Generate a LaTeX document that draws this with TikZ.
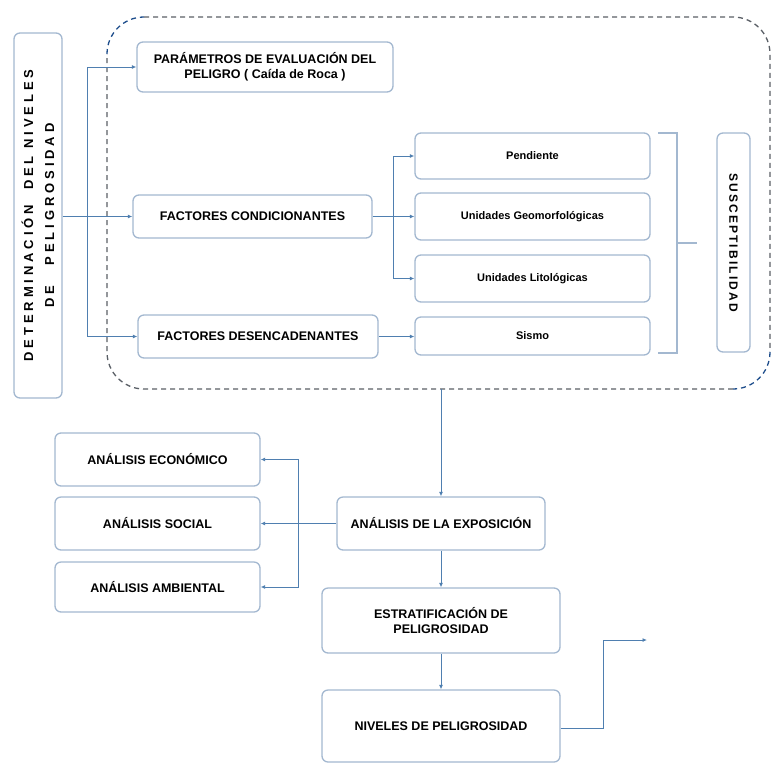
\documentclass[tikz,border=0pt]{standalone}
\usepackage{fontspec}
\setmainfont{Liberation Sans}
\newfontfamily\spacedfont[LetterSpace=30]{Liberation Sans}
\newfontfamily\susfont[LetterSpace=18]{Liberation Sans}
\usetikzlibrary{arrows.meta}
\definecolor{boxc}{HTML}{A3B8D0}
\definecolor{connc}{HTML}{4F7FB0}
\definecolor{dashc}{HTML}{5A5F66}
\definecolor{navyc}{HTML}{1F4E8C}
\tikzset{
  box/.style={draw=boxc, line width=1.3pt, rounded corners=6pt, fill=white, align=center, inner sep=2pt, font=\bfseries\fontsize{12.5}{15}\selectfont},
  smallbox/.style={box, font=\bfseries\fontsize{11}{13}\selectfont},
  conn/.style={draw=connc, line width=0.9pt},
  arr/.style={conn, -{Latex[length=4.5pt,width=4pt]}},
  region/.style={dashed, dash pattern=on 5pt off 4pt, line width=1.3pt},
}
\begin{document}
\begin{tikzpicture}[x=1pt,y=1pt]
\useasboundingbox (0,0) rectangle (773,-764);

% dashed region
\draw[region, dashc] (144,-17) -- (733,-17) arc[start angle=90,end angle=0,radius=37] -- (770,-352);
\draw[region, navyc] (770,-352) arc[start angle=0,end angle=-90,radius=37];
\draw[region, dashc] (733,-389) -- (144,-389) arc[start angle=270,end angle=180,radius=37] -- (107,-54);
\draw[region, navyc] (107,-54) arc[start angle=180,end angle=90,radius=37];

% left vertical box
\node[box, minimum width=48pt, minimum height=365pt, inner sep=0pt] (det) at (38,-215.5) {};
\node[rotate=90, align=center, font=\spacedfont\bfseries\fontsize{13}{21}\selectfont] (dettext) at (det.center) {DETERMINACIÓN \ DEL NIVELES\\DE \quad PELIGROSIDAD};

% first column
\node[box, minimum width=256pt, minimum height=50pt] (par) at (265,-67) {PARÁMETROS DE EVALUACIÓN DEL\\PELIGRO ( Caída de Roca )};
\node[box, minimum width=239pt, minimum height=43pt] (fc) at (252.5,-216.5) {FACTORES CONDICIONANTES};
\node[box, minimum width=240pt, minimum height=43pt] (fd) at (258,-336.5) {FACTORES DESENCADENANTES};

% second column
\node[smallbox, minimum width=235pt, minimum height=46pt] (pen) at (532.5,-156) {Pendiente};
\node[smallbox, minimum width=235pt, minimum height=47pt] (geo) at (532.5,-216.5) {Unidades Geomorfológicas};
\node[smallbox, minimum width=235pt, minimum height=47pt] (lit) at (532.5,-278.5) {Unidades Litológicas};
\node[smallbox, minimum width=235pt, minimum height=38pt] (sis) at (532.5,-336) {Sismo};

% susceptibilidad
\node[box, minimum width=33pt, minimum height=219pt, inner sep=0pt] (sus) at (733.5,-242.5) {};
\node[rotate=-90, font=\susfont\bfseries\fontsize{12}{14}\selectfont] (sustext) at (sus.center) {SUSCEPTIBILIDAD};

% bracket
\draw[boxc, line width=1.3pt] (658,-133) -- (677,-133) -- (677,-353) -- (658,-353);
\coordinate (brmid) at (677,-243);
\coordinate (brend) at (697,-243);
\draw[boxc, line width=1.3pt] (brmid) -- (brend);

% lower part
\node[box, minimum width=205pt, minimum height=53pt] (eco) at (157.5,-459.5) {ANÁLISIS ECONÓMICO};
\node[box, minimum width=205pt, minimum height=53pt] (soc) at (157.5,-523.5) {ANÁLISIS SOCIAL};
\node[box, minimum width=205pt, minimum height=50pt] (amb) at (157.5,-587) {ANÁLISIS AMBIENTAL};
\node[box, minimum width=208pt, minimum height=53pt] (ana) at (441,-523.5) {ANÁLISIS DE LA EXPOSICIÓN};
\node[box, minimum width=238pt, minimum height=65pt] (est) at (441,-620.5) {ESTRATIFICACIÓN DE\\PELIGROSIDAD};
\node[box, minimum width=238pt, minimum height=72pt] (niv) at (441,-726) {NIVELES DE PELIGROSIDAD};

% connectors: top
\coordinate (trunk) at (87,-216.5);
\draw[conn] (det.east |- fc.west) -- (trunk);
\draw[arr] (trunk) |- (par.west);
\draw[arr] (trunk) -- (fc.west);
\draw[arr] (trunk) |- (fd.west);

\coordinate (br) at (393,-216.5);
\draw[conn] (fc.east) -- (br);
\draw[arr] (br) |- (pen.west);
\draw[arr] (br) -- (geo.west);
\draw[arr] (br) |- (lit.west);
\draw[arr] (fd.east) -- (sis.west |- fd.east);

% connectors: bottom
\coordinate (gbot) at (441,-389);
\draw[arr] (gbot) -- (ana.north);
\coordinate (vx) at (298,-523.5);
\draw[conn] (ana.west) -- (vx);
\draw[arr] (vx) |- (eco.east);
\draw[arr] (vx) -- (soc.east);
\draw[arr] (vx) |- (amb.east);
\draw[arr] (ana.south) -- (est.north);
\draw[arr] (est.south) -- (niv.north);
\coordinate (outa) at (603,-728);
\coordinate (outb) at (647,-640);
\draw[arr] (niv.east |- outa) -- (outa) |- (outb);
\end{tikzpicture}
\end{document}
